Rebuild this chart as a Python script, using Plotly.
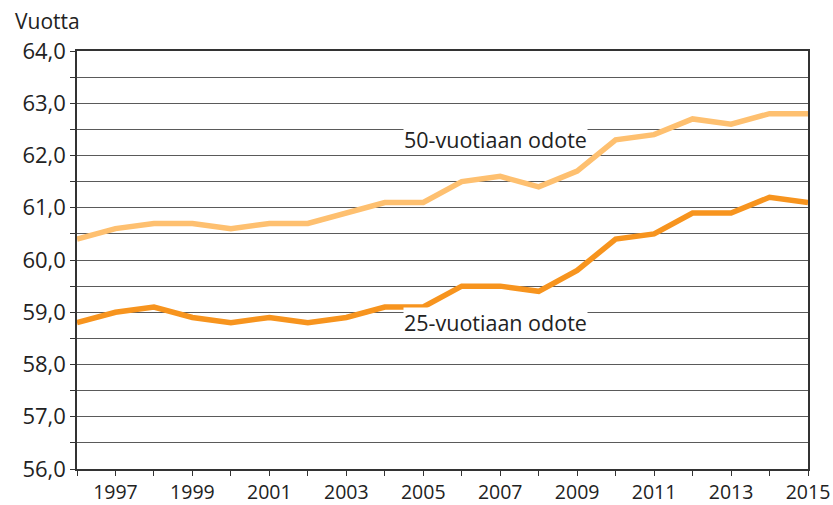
import plotly.graph_objects as go

years = list(range(1996, 2016))
odote_50 = [60.4, 60.6, 60.7, 60.7, 60.6, 60.7, 60.7, 60.9, 61.1, 61.1,
            61.5, 61.6, 61.4, 61.7, 62.3, 62.4, 62.7, 62.6, 62.8, 62.8]
odote_25 = [58.8, 59.0, 59.1, 58.9, 58.8, 58.9, 58.8, 58.9, 59.1, 59.1,
            59.5, 59.5, 59.4, 59.8, 60.4, 60.5, 60.9, 60.9, 61.2, 61.1]
x_ticktext = [str(y) if y % 2 == 1 else "" for y in years]
y_tickvals = [56 + 0.5 * i for i in range(17)]
y_ticktext = [f"{v:.1f}".replace(".", ",") if v == int(v) else "" for v in y_tickvals]

FONT = "Open Sans, Noto Sans, sans-serif"
GRID = "#5a5a5a"

fig = go.Figure()
fig.add_trace(go.Scatter(x=years, y=odote_50, mode="lines",
                         line=dict(color="#FEC070", width=5.5),
                         name="50-vuotiaan odote", showlegend=False))
fig.add_trace(go.Scatter(x=years, y=odote_25, mode="lines",
                         line=dict(color="#F7941E", width=5.5),
                         name="25-vuotiaan odote", showlegend=False))

fig.update_layout(
    width=833, height=505,
    margin=dict(l=77, r=25, t=51, b=36, autoexpand=False),
    paper_bgcolor="white", plot_bgcolor="white",
    font=dict(family=FONT, size=21, color="#222222"),
    xaxis=dict(range=[1996, 2015], tickvals=years, ticktext=x_ticktext,
               ticks="outside", ticklen=5, tickcolor="#333", tickwidth=1,
               showgrid=False, showline=True, linecolor="#333", linewidth=1.5,
               mirror=True, zeroline=False, automargin=False,
               tickfont=dict(size=19.5)),
    yaxis=dict(range=[56, 64], tickvals=y_tickvals, ticktext=y_ticktext,
               ticks="outside", ticklen=5, tickcolor="#333", tickwidth=1,
               showgrid=True, gridcolor=GRID, gridwidth=1,
               showline=True, linecolor="#333", linewidth=1.5, mirror=True,
               zeroline=False, automargin=False, tickfont=dict(size=22)),
    annotations=[
        dict(text="Vuotta", x=-0.088, y=1.072, xref="paper", yref="paper",
             xanchor="left", yanchor="middle", showarrow=False,
             font=dict(size=21)),
        dict(text="50-vuotiaan odote", x=2006.87, y=62.30, xref="x", yref="y",
             xanchor="center", yanchor="middle", showarrow=False,
             bgcolor="white", font=dict(size=21.5), borderpad=0),
        dict(text="25-vuotiaan odote", x=2006.87, y=58.81, xref="x", yref="y",
             xanchor="center", yanchor="middle", showarrow=False,
             bgcolor="white", font=dict(size=21.5), borderpad=0),
    ],
)
fig.write_html(
    "out.html",
    config={"displayModeBar": False},
    post_script="document.body.style.margin='0';"
                "document.documentElement.style.overflow='hidden';"
                "document.body.style.overflow='hidden';",
)
